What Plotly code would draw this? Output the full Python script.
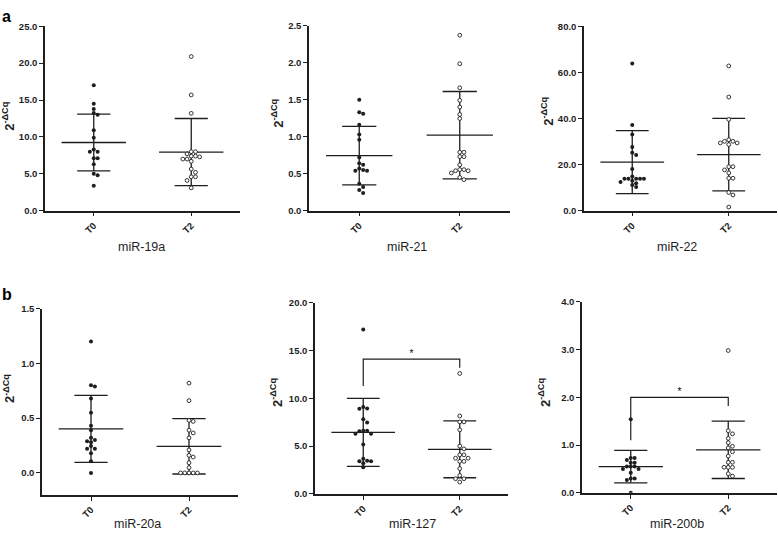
import plotly.graph_objects as go

W, H = 778, 538

groups = ["T0", "T2"]

# ---- data ----
mir19a_t0 = [17.0, 14.5, 13.8, 13.25, 13.0, 10.9, 9.9, 8.3, 8.0, 8.0, 7.1, 7.1, 6.3, 5.0, 4.8, 3.4]
mir19a_t2 = [20.9, 15.7, 13.2, 8.0, 8.0, 7.7, 7.4, 7.4, 7.3, 7.0, 7.0, 6.7, 5.65, 5.2, 4.6, 4.6, 4.1, 3.1]
mir19a_mean = [9.25, 7.95]
mir19a_sd = [3.85, 4.55]

mir21_t0 = [1.50, 1.33, 1.31, 1.16, 1.03, 0.96, 0.72, 0.64, 0.62, 0.57, 0.55, 0.54, 0.54, 0.365, 0.32, 0.28, 0.24]
mir21_t2 = [2.37, 1.985, 1.66, 1.49, 1.40, 1.30, 1.245, 0.79, 0.79, 0.73, 0.73, 0.62, 0.555, 0.555, 0.54, 0.54, 0.51, 0.45, 0.42]
mir21_mean = [0.745, 1.02]
mir21_sd = [0.395, 0.59]

mir22_t0 = [63.9, 37.2, 33.1, 27.6, 25.2, 24.2, 18.1, 14.8, 13.85, 13.85, 13.85, 13.85, 13.85, 13.0, 12.5, 11.9, 11.2, 10.3]
mir22_t2 = [62.8, 49.3, 39.6, 30.8, 30.1, 30.1, 29.4, 29.4, 28.7, 19.1, 19.1, 17.7, 16.4, 14.1, 14.1, 7.9, 6.8, 1.6]
mir22_mean = [21.1, 24.35]
mir22_sd = [13.65, 15.7]

mir20a_t0 = [1.20, 0.80, 0.79, 0.68, 0.55, 0.43, 0.39, 0.32, 0.30, 0.29, 0.28, 0.245, 0.22, 0.22, 0.18, 0.107, 0.0]
mir20a_t2 = [0.82, 0.66, 0.48, 0.47, 0.39, 0.365, 0.32, 0.21, 0.16, 0.145, 0.093, 0.048, 0.0, 0.0, 0.0, 0.0, 0.0]
mir20a_mean = [0.402, 0.243]
mir20a_sd = [0.306, 0.253]

mir127_t0 = [17.2, 9.1, 8.94, 8.9, 7.8, 7.47, 6.6, 6.6, 6.54, 6.3, 6.3, 5.17, 3.66, 3.46, 3.4, 3.4, 3.2, 2.77]
mir127_t2 = [12.6, 8.15, 7.53, 7.53, 6.7, 5.0, 4.7, 4.08, 4.08, 3.73, 3.73, 3.4, 3.4, 2.64, 1.92, 1.58, 1.58, 1.23]
mir127_mean = [6.44, 4.66]
mir127_sd = [3.56, 2.98]
mir127_bracket = [11.3, 14.1, 13.2]   # left leg end, top, right leg end

mir200b_t0 = [1.54, 0.73, 0.73, 0.69, 0.63, 0.63, 0.55, 0.55, 0.55, 0.50, 0.50, 0.42, 0.30, 0.30, 0.27, 0.0]
mir200b_t2 = [2.98, 1.30, 1.235, 1.14, 1.05, 0.975, 0.94, 0.86, 0.77, 0.64, 0.64, 0.535, 0.535, 0.535, 0.40, 0.35]
mir200b_mean = [0.55, 0.90]
mir200b_sd = [0.34, 0.60]
mir200b_bracket = [1.10, 2.0, 1.82]

panel_names = ["miR-19a", "miR-21", "miR-22", "miR-20a", "miR-127", "miR-200b"]
y_ticks = [
    [0, 5, 10, 15, 20, 25],
    [0, 0.5, 1.0, 1.5, 2.0, 2.5],
    [0, 20, 40, 60, 80],
    [0, 0.5, 1.0, 1.5],
    [0, 5, 10, 15, 20],
    [0, 1, 2, 3, 4],
]

data = [
    (mir19a_t0, mir19a_t2, mir19a_mean, mir19a_sd, None),
    (mir21_t0, mir21_t2, mir21_mean, mir21_sd, None),
    (mir22_t0, mir22_t2, mir22_mean, mir22_sd, None),
    (mir20a_t0, mir20a_t2, mir20a_mean, mir20a_sd, None),
    (mir127_t0, mir127_t2, mir127_mean, mir127_sd, mir127_bracket),
    (mir200b_t0, mir200b_t2, mir200b_mean, mir200b_sd, mir200b_bracket),
]

# ---- layout (pixel boxes of each plot area) ----
boxes = [  # x0, x1, ytop, ybottom in pixels
    (45, 240, 20.7, 209),
    (309, 510, 20.0, 209),
    (584, 777, 20.7, 209),
    (42, 238, 309, 499),
    (315, 508, 303, 498),
    (582, 777, 302, 497),
]
y_ranges = [[0, 25], [0, 2.5], [0, 80], [-0.2, 1.5], [0, 20], [0, 4]]
ytitle_pos = [(8, 113), (277, 110), (547, 108), (9, 391), (276, 395), (544, 395)]
xtitle_pos = [(141, 246), (407, 246), (677, 246), (137, 529), (412, 529), (677, 529)]

INK = "#1e1e1e"
FONT = "Liberation Sans"
MEAN_HW = 0.33
CAP_HW = 0.17


def swarm(vals, center, px_x, px_y, d):
    placed = []
    out = [0.0] * len(vals)
    order = sorted(range(len(vals)), key=lambda i: -vals[i])
    cands = [0]
    for j in range(1, 25):
        cands += [j, -j]
    for i in order:
        yp = vals[i] * px_y
        xp = 0.0
        for c in cands:
            xp = c * d
            if all((xp - a) ** 2 + (yp - b) ** 2 >= d * d * 0.9 for a, b in placed):
                break
        placed.append((xp, yp))
        out[i] = center + xp / px_x
    return out


fig = go.Figure()
annotations = []

for k, (t0, t2, mean, sd, bracket) in enumerate(data):
    n = "" if k == 0 else str(k + 1)
    xref, yref = "x" + n, "y" + n
    x0, x1, yt, yb = boxes[k]
    px_x = (x1 - x0) / 2.0
    px_y = (yb - yt) / (y_ranges[k][1] - y_ranges[k][0])

    # mean and SD lines
    for g in range(2):
        m, s = mean[g], sd[g]
        fig.add_trace(go.Scatter(
            x=[g - MEAN_HW, g + MEAN_HW, None, g - CAP_HW, g + CAP_HW, None,
               g - CAP_HW, g + CAP_HW, None, g, g],
            y=[m, m, None, m + s, m + s, None, m - s, m - s, None, m - s, m + s],
            mode="lines", line=dict(color=INK, width=1.3),
            xaxis=xref, yaxis=yref, showlegend=False, hoverinfo="skip"))

    if bracket is not None:
        fig.add_trace(go.Scatter(
            x=[0, 0, 1, 1], y=[bracket[0], bracket[1], bracket[1], bracket[2]],
            mode="lines", line=dict(color=INK, width=1.2),
            xaxis=xref, yaxis=yref, showlegend=False, hoverinfo="skip"))
        fig.add_trace(go.Scatter(
            x=[0.5], y=[bracket[1]], mode="text", text=["*"],
            textposition="top center",
            textfont=dict(family=FONT, size=10, color="#000000"),
            xaxis=xref, yaxis=yref, showlegend=False, hoverinfo="skip"))

    # points
    fig.add_trace(go.Scatter(
        x=swarm(t0, 0, px_x, px_y, 3.9), y=t0, mode="markers",
        marker=dict(symbol="circle", size=4, color=INK, line=dict(width=0)),
        xaxis=xref, yaxis=yref, showlegend=False, name="T0"))
    fig.add_trace(go.Scatter(
        x=swarm(t2, 1, px_x, px_y, 4.2), y=t2, mode="markers",
        marker=dict(symbol="circle", size=3.8, color="white", line=dict(width=0.9, color=INK)),
        xaxis=xref, yaxis=yref, showlegend=False, name="T2"))

    fig.layout["xaxis" + n] = dict(
        domain=[x0 / W, x1 / W], anchor=yref, range=[-0.5, 1.5],
        tickvals=[0, 1], ticktext=groups, tickangle=-45,
        ticks="outside", ticklen=4, tickwidth=1.2, tickcolor=INK,
        showline=True, linecolor=INK, linewidth=1.5, showgrid=False, zeroline=False,
        tickfont=dict(family=FONT, size=9.5, color=INK, weight="bold"),
        fixedrange=True)
    fig.layout["yaxis" + n] = dict(
        domain=[1 - yb / H, 1 - yt / H], anchor=xref, range=y_ranges[k],
        tickvals=y_ticks[k], ticktext=["%.1f" % v for v in y_ticks[k]],
        ticks="outside", ticklen=4, tickwidth=1.2, tickcolor=INK,
        showline=True, linecolor=INK, linewidth=1.5, showgrid=False, zeroline=False,
        tickfont=dict(family=FONT, size=9.5, color=INK, weight="bold"),
        fixedrange=True)

    tx, ty = ytitle_pos[k]
    annotations.append(dict(x=tx / W, y=1 - ty / H, xref="paper", yref="paper",
                            text="2<sup>-ΔCq</sup>", textangle=-90, showarrow=False,
                            xanchor="center", yanchor="middle",
                            font=dict(family=FONT, size=13, color=INK, weight="bold")))
    bx, by = xtitle_pos[k]
    annotations.append(dict(x=bx / W, y=1 - by / H, xref="paper", yref="paper",
                            text=panel_names[k], showarrow=False,
                            xanchor="center", yanchor="middle",
                            font=dict(family=FONT, size=12.5, color=INK)))

annotations.append(dict(x=0 / W, y=1 - 0 / H, xref="paper", yref="paper", text="<b>a</b>",
                        showarrow=False, xanchor="left", yanchor="top",
                        font=dict(family=FONT, size=16, color="#000")))
annotations.append(dict(x=0 / W, y=1 - 284 / H, xref="paper", yref="paper", text="<b>b</b>",
                        showarrow=False, xanchor="left", yanchor="top",
                        font=dict(family=FONT, size=16, color="#000")))

fig.update_layout(
    width=W, height=H, autosize=False,
    margin=dict(l=0, r=0, t=0, b=0),
    paper_bgcolor="white", plot_bgcolor="white",
    annotations=annotations, showlegend=False,
)

fig.write_html("out.html", config={"displayModeBar": False},
               post_script="document.body.style.margin='0px';document.body.style.overflow='hidden';")
